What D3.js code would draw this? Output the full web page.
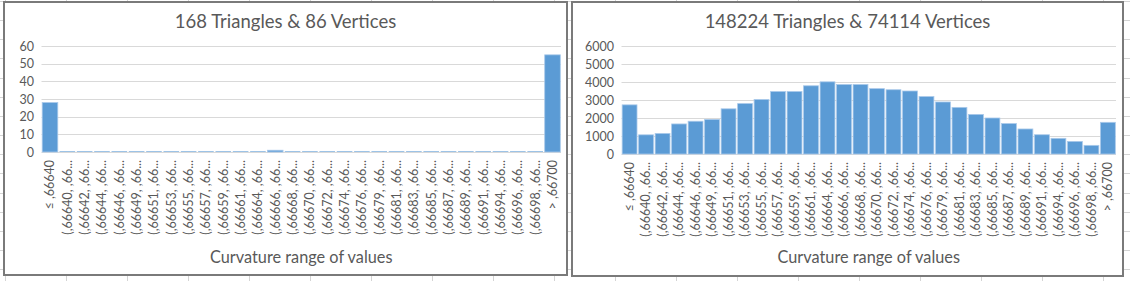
<!DOCTYPE html>
<html>
<head>
<meta charset="utf-8">
<script src="https://cdn.jsdelivr.net/npm/d3@7"></script>
<style>
  html, body { margin: 0; padding: 0; background: #ffffff; }
  svg { display: block; }
  text { font-family: Lato, "Open Sans", sans-serif; fill: #595959; }
</style>
</head>
<body>
<svg id="chart" width="1130" height="281"></svg>
<script>
// ---------- data ----------
const categories = [
  "≤ ,66640",
  "(,66640, ,66...", "(,66642, ,66...", "(,66644, ,66...", "(,66646, ,66...",
  "(,66649, ,66...", "(,66651, ,66...", "(,66653, ,66...", "(,66655, ,66...",
  "(,66657, ,66...", "(,66659, ,66...", "(,66661, ,66...", "(,66664, ,66...",
  "(,66666, ,66...", "(,66668, ,66...", "(,66670, ,66...", "(,66672, ,66...",
  "(,66674, ,66...", "(,66676, ,66...", "(,66679, ,66...", "(,66681, ,66...",
  "(,66683, ,66...", "(,66685, ,66...", "(,66687, ,66...", "(,66689, ,66...",
  "(,66691, ,66...", "(,66694, ,66...", "(,66696, ,66...", "(,66698, ,66...",
  "> ,66700"
];
const coarseValues = [28, 0, 0, 0, 0, 0, 0, 0, 0, 0, 0, 0, 0, 1, 0, 0, 0, 0, 0, 0,
                      0, 0, 0, 0, 0, 0, 0, 0, 0, 55];
const fineValues = [2730, 1065, 1140, 1670, 1820, 1920, 2510, 2800, 3030, 3470,
                    3470, 3790, 4010, 3860, 3860, 3630, 3570, 3500, 3190, 2890,
                    2590, 2200, 2000, 1690, 1390, 1070, 870, 700, 480, 1760];
const coarseTicks = [0, 10, 20, 30, 40, 50, 60];
const fineTicks = [0, 1000, 2000, 3000, 4000, 5000, 6000];
const coarseTitle = "168 Triangles & 86 Vertices";
const fineTitle = "148224 Triangles & 74114 Vertices";
const xAxisTitle = "Curvature range of values";

// ---------- drawing ----------
const svg = d3.select("#chart");
const W = 1130, H = 281;

// spreadsheet cell grid behind the charts
const colX = d3.range(5, W, 61);
const rowY = d3.range(1, H, 19.15);
const bg = svg.append("g");
bg.selectAll("line.c").data(colX).join("line")
  .attr("x1", d => d + 0.5).attr("x2", d => d + 0.5)
  .attr("y1", 0).attr("y2", H)
  .attr("stroke", "#d4d4d4").attr("stroke-width", 1);
bg.selectAll("line.r").data(rowY).join("line")
  .attr("x1", 0).attr("x2", W)
  .attr("y1", d => Math.round(d) + 0.5).attr("y2", d => Math.round(d) + 0.5)
  .attr("stroke", "#d4d4d4").attr("stroke-width", 1);

function drawChart(cfg) {
  const g = svg.append("g");
  // chart frame
  g.append("rect")
    .attr("x", cfg.frame[0]).attr("y", cfg.frame[1])
    .attr("width", cfg.frame[2]).attr("height", cfg.frame[3])
    .attr("fill", "#ffffff").attr("stroke", "#7a7a7a").attr("stroke-width", 2);

  const x = d3.scaleBand().domain(categories)
    .range([cfg.plot.left, cfg.plot.right])
    .paddingInner(0.1).paddingOuter(0.04);
  const y = d3.scaleLinear().domain([0, d3.max(cfg.ticks)])
    .range([cfg.plot.bottom, cfg.plot.top]);

  // horizontal gridlines
  g.append("g").selectAll("line").data(cfg.ticks).join("line")
    .attr("x1", cfg.plot.left).attr("x2", cfg.plot.right)
    .attr("y1", d => Math.round(y(d)) + 0.5).attr("y2", d => Math.round(y(d)) + 0.5)
    .attr("stroke", "#d9d9d9").attr("stroke-width", 1);

  // y axis labels
  const ya = d3.axisLeft(y).tickValues(cfg.ticks).tickFormat(d3.format("d"))
    .tickSize(0).tickPadding(0);
  const yg = g.append("g")
    .attr("transform", `translate(${cfg.yLabelX},0)`)
    .call(ya);
  yg.select(".domain").remove();
  yg.selectAll("text")
    .style("font-family", "Lato, 'Open Sans', sans-serif")
    .style("font-size", "12.5px").attr("fill", "#595959");

  // bars
  g.append("g").selectAll("rect").data(cfg.values).join("rect")
    .attr("x", (d, i) => x(categories[i]))
    .attr("width", x.bandwidth())
    .attr("y", d => Math.min(y(d), cfg.plot.bottom - 1))
    .attr("height", d => Math.max(cfg.plot.bottom - y(d), 1))
    .attr("fill", d => d > 0 ? "#5b9bd5" : "#9dc3e6")
    .attr("stroke", d => d > 0 ? "#a9c9ea" : "none")
    .attr("stroke-width", 0.8);

  // x axis labels (rotated)
  const xa = d3.axisBottom(x).tickSize(0).tickPadding(0);
  const xg = g.append("g")
    .attr("transform", `translate(0,${cfg.plot.bottom + 8})`)
    .call(xa);
  xg.select(".domain").remove();
  xg.selectAll("text")
    .style("font-family", "Lato, 'Open Sans', sans-serif")
    .style("font-size", "12.5px").attr("fill", "#595959")
    .attr("transform", "rotate(-90)")
    .attr("text-anchor", "end")
    .attr("x", 0).attr("y", 0).attr("dy", "0.35em")
    .attr("dx", "0");

  // chart title
  g.append("text")
    .attr("x", cfg.frame[0] + cfg.frame[2] / 2).attr("y", 28)
    .attr("text-anchor", "middle")
    .style("font-size", "18.5px")
    .text(cfg.title);

  // axis title
  g.append("text")
    .attr("x", (cfg.plot.left + cfg.plot.right) / 2).attr("y", 263)
    .attr("text-anchor", "middle")
    .style("font-size", "16.3px")
    .text(xAxisTitle);
}

drawChart({
  frame: [4, 2, 563, 273],
  plot: { left: 41.5, right: 561, top: 46, bottom: 152 },
  yLabelX: 34,
  ticks: coarseTicks,
  values: coarseValues,
  title: coarseTitle
});
drawChart({
  frame: [572, 2, 551, 274],
  plot: { left: 621.5, right: 1116, top: 46, bottom: 154 },
  yLabelX: 614,
  ticks: fineTicks,
  values: fineValues,
  title: fineTitle
});
</script>
</body>
</html>
